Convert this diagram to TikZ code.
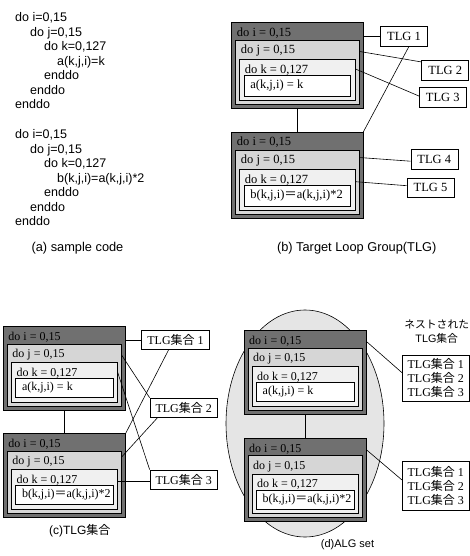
\documentclass[tikz,border=0pt]{standalone}
\usepackage{fontspec}
\setmainfont{Liberation Serif}
\setsansfont{Liberation Sans}
\newfontfamily\cjk{Noto Sans CJK JP}
\usetikzlibrary{shapes.geometric}

\definecolor{ifill}{gray}{0.44}
\definecolor{jfill}{gray}{0.84}
\definecolor{kfill}{gray}{0.94}
\definecolor{algfill}{gray}{0.90}

\begin{document}
\begin{tikzpicture}[x=1pt,y=-1pt,
    box/.style={draw,inner sep=0pt,outer sep=0pt,anchor=north west,line width=0.7pt},
    iloop/.style={box,fill=ifill},
    jloop/.style={box,fill=jfill},
    kloop/.style={box,fill=kfill},
    stmt/.style={box,fill=white},
    looplabel/.style={anchor=west,inner sep=0pt},
    tlg/.style={draw,fill=white,inner sep=0pt,minimum height=19.5,line width=0.6pt},
    code/.style={anchor=north west,align=left,inner sep=0pt,
                 font=\sffamily\fontsize{12.5}{14.5}\selectfont},
    caption/.style={font=\sffamily\fontsize{12.8}{15}\selectfont},
    link/.style={line width=0.6pt}]
\useasboundingbox (0,0) rectangle (470,556);

% (a) sample code
\node[code] (codea) at (15,12.5) {do i=0,15\\
\hspace*{15pt}do j=0,15\\
\hspace*{29pt}do k=0,127\\
\hspace*{42pt}a(k,j,i)=k\\
\hspace*{29pt}enddo\\
\hspace*{15pt}enddo\\
enddo};
\node[code] (codeb) at (15,129.5) {do i=0,15\\
\hspace*{15pt}do j=0,15\\
\hspace*{29pt}do k=0,127\\
\hspace*{42pt}b(k,j,i)=a(k,j,i)*2\\
\hspace*{29pt}enddo\\
\hspace*{15pt}enddo\\
enddo};

% ALG set
\node[ellipse,draw,fill=algfill,line width=0.6pt,minimum width=158,minimum height=227] (alg) at (305,423.5) {};

% loop nests
\foreach \nm/\x/\y/\w/\h/\fs/\txt in {
  b1/231.7/22.3/131.6/86.3/12.5/{a(k,j,i) = k},
  b2/231.7/132/131.6/86.7/12.5/{b(k,j,i){\cjk ＝}a(k,j,i)*2},
  c1/3.3/326.7/122.4/83.3/12/{a(k,j,i) = k},
  c2/3.3/433.3/122.4/84/12/{b(k,j,i){\cjk ＝}a(k,j,i)*2},
  d1/244/330.7/122.7/83.3/12/{a(k,j,i) = k},
  d2/244/438.3/122.7/83.4/12/{b(k,j,i){\cjk ＝}a(k,j,i)*2}}{
  \node[iloop, minimum width=\w, minimum height=\h] (\nm-i) at (\x,\y) {};
  \node[jloop, minimum width=\w-8, minimum height=0.79*\h-4] (\nm-j)
    at ([xshift=4pt,yshift=-0.21*\h]\nm-i.north west) {};
  \node[kloop, minimum width=\w-16, minimum height=0.57*\h-8] (\nm-k)
    at ([xshift=8pt,yshift=-0.43*\h]\nm-i.north west) {};
  \node[stmt, minimum width=\w-25, minimum height=0.38*\h-12.5] (\nm-s)
    at ([xshift=12.5pt,yshift=-0.62*\h]\nm-i.north west) {};
  \node[looplabel, font=\fontsize{\fs}{14}\selectfont] (\nm-li)
    at ([xshift=5pt,yshift=-10.5pt]\nm-i.north west) {do i = 0,15};
  \node[looplabel, font=\fontsize{\fs}{14}\selectfont] (\nm-lj)
    at ([xshift=5pt,yshift=-10.5pt]\nm-j.north west) {do j = 0,15};
  \node[looplabel, font=\fontsize{\fs}{14}\selectfont] (\nm-lk)
    at ([xshift=5pt,yshift=-10.5pt]\nm-k.north west) {do k = 0,127};
  \node[looplabel, font=\fontsize{\fs}{14}\selectfont] (\nm-ls)
    at ([xshift=6pt]\nm-s.west) {\txt};
}

% (b) target loop groups
\node[tlg, minimum width=47, font=\fontsize{12.5}{14}\selectfont] (t1) at (404,36.3) {TLG 1};
\node[tlg, minimum width=47, font=\fontsize{12.5}{14}\selectfont] (t2) at (445.2,70.5) {TLG 2};
\node[tlg, minimum width=47, font=\fontsize{12.5}{14}\selectfont] (t3) at (442.7,97.5) {TLG 3};
\node[tlg, minimum width=47, font=\fontsize{12.5}{14}\selectfont] (t4) at (434.3,159.2) {TLG 4};
\node[tlg, minimum width=47, font=\fontsize{12.5}{14}\selectfont] (t5) at (430.5,187.7) {TLG 5};

\draw[link] (b1-i.south) -- (b2-i.north);
\draw[link] (t1.west) -- (t1.west -| b1-i.east);
\draw[link] ([yshift=-11pt]b1-j.north east) -- ([yshift=-1.5pt]t2.north west);
\draw[link] ([yshift=-9.5pt]b1-k.north east) -- ([yshift=1.5pt]t3.west);
\draw[link] ([xshift=5pt]t1.south) -- (b2-i.north east);
\draw[link] ([yshift=-7.3pt]b2-j.north east) -- ([yshift=-2pt]t4.west);
\draw[link] ([yshift=-12.4pt]b2-k.north east) -- ([yshift=2pt]t5.west);

% (c) TLG sets
\node[tlg, minimum width=67.5, font=\fontsize{12}{14}\selectfont] (s1) at (175.5,340) {TLG{\cjk 集合} 1};
\node[tlg, minimum width=67.5, font=\fontsize{12}{14}\selectfont] (s2) at (183.7,407.8) {TLG{\cjk 集合} 2};
\node[tlg, minimum width=67.5, font=\fontsize{12}{14}\selectfont] (s3) at (183.7,479.7) {TLG{\cjk 集合} 3};

\draw[link] (c1-i.south) -- (c2-i.north);
\draw[link] (s1.west) -- (s1.west -| c1-i.east);
\draw[link] ([xshift=-7pt]s1.south) -- (c2-i.north east);
\draw[link] ([yshift=-11pt]c1-j.north east) -- (s2.north west);
\draw[link] ([yshift=-10pt]c1-k.north east) -- (s3.north west);
\draw[link] ([xshift=7.7pt]s2.south west) -- ([yshift=-6pt]c2-j.north east);
\draw[link] ([yshift=-2pt]s3.west) -- ([yshift=-2pt]s3.west -| c2-k.east);

% (d) nested TLG sets
\node[align=center, inner sep=0pt, font=\fontsize{10.8}{14}\selectfont] (n0) at (436.7,332)
  {{\cjk ネストされた}\\\sffamily TLG{\cjk 集合}};
\node[tlg, align=left, minimum width=67, minimum height=46.7, font=\fontsize{12}{14}\selectfont] (n1) at (435.8,378.3)
  {TLG{\cjk 集合} 1\\TLG{\cjk 集合} 2\\TLG{\cjk 集合} 3};
\node[tlg, align=left, minimum width=67, minimum height=48.3, font=\fontsize{12}{14}\selectfont] (n2) at (435.8,485.8)
  {TLG{\cjk 集合} 1\\TLG{\cjk 集合} 2\\TLG{\cjk 集合} 3};

\draw[link] (d1-i.south) -- (d2-i.north);
\draw[link] ([yshift=-11pt]d1-i.north east) -- ([yshift=5.6pt]n1.west);
\draw[link] ([yshift=-11.7pt]d2-i.north east) -- ([yshift=5.8pt]n2.west);

% captions
\node[caption] (capa) at (77.5,248) {(a) sample code};
\node[caption] (capb) at (356.7,247.7) {(b) Target Loop Group(TLG)};
\node[caption, font=\sffamily\fontsize{12}{15}\selectfont] (capc) at (79.7,530.7) {(c)TLG{\cjk 集合}};
\node[caption, font=\sffamily\fontsize{11}{15}\selectfont] (capd) at (347.5,545) {(d)ALG set};
\end{tikzpicture}
\end{document}
